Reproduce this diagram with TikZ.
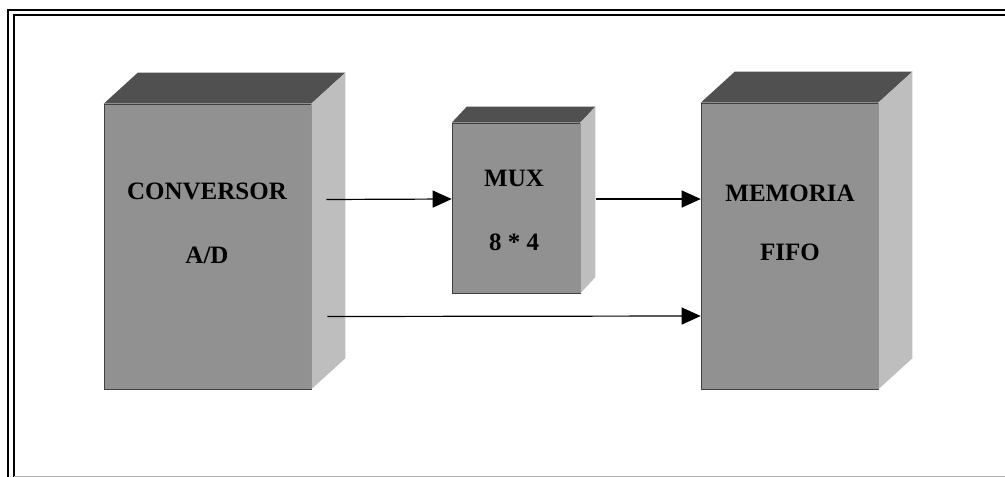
\documentclass[tikz,border=0pt]{standalone}
\usepackage{fontspec}
\setmainfont{Liberation Serif}
\usepackage{tikz}
\usetikzlibrary{arrows.meta,calc}
\definecolor{grisFrente}{RGB}{145,145,145}
\definecolor{grisTapa}{RGB}{80,80,80}
\definecolor{grisLado}{RGB}{190,190,190}

\begin{document}
\begin{tikzpicture}[x=1pt, y=-1pt, >={Triangle[length=19pt,width=17pt]},
    cara/.style={draw=black!75, line width=0.6pt, fill=grisFrente, inner sep=0pt},
    rotulo/.style={font=\fontsize{25}{30}\selectfont\bfseries, text=black},
    flecha/.style={->, line width=1.2pt}]
        \useasboundingbox (0,0) rectangle (1005,477);

        % Marco
        \draw[line width=1.4pt] (8,477) -- (8,10) -- (1005,10);
        \draw[line width=1.4pt] (14,477) -- (14,15) -- (1005,15);
        \draw[gray!60, line width=1pt] (14,476) -- (1005,476);

        % Bloques (cara frontal)
        \node[cara, minimum width=207pt, minimum height=285pt] (conv) at (207.5,246.5) {};
        \node[cara, minimum width=128pt, minimum height=170pt] (mux) at (516,208) {};
        \node[cara, minimum width=177pt, minimum height=286pt] (mem) at (789.5,246) {};

        % Tapa y lado de cada bloque
        \foreach \n/\dx/\dy in {conv/34/-31, mux/15/-16, mem/34/-31} {
            \fill[grisTapa] (\n.north west) -- ++(\dx,\dy) -- ($(\n.north east)+(\dx,\dy)$) -- (\n.north east) -- cycle;
            \fill[grisLado] (\n.north east) -- ++(\dx,\dy) -- ($(\n.south east)+(\dx,\dy)$) -- (\n.south east) -- cycle;
        }

        % Textos
        \node[rotulo] (conv1) at (207,191) {CONVERSOR};
        \node[rotulo] (conv2) at (207,255) {A/D};
        \node[rotulo] (mux1) at (514,178) {MUX};
        \node[rotulo] (mux2) at (514,242) {8 * 4};
        \node[rotulo] (mem1) at (790,193) {MEMORIA};
        \node[rotulo] (mem2) at (790,252) {FIFO};

        % Conexiones
        \draw[flecha] ([xshift=15pt,yshift=47pt]conv.east) -- ([yshift=9pt]mux.west);
        \draw[flecha] ([xshift=16pt,yshift=9pt]mux.east) -- ([yshift=47pt]mem.west);
        \draw[flecha] ([xshift=16pt,yshift=-70pt]conv.east) -- ([yshift=-70pt]mem.west);
\end{tikzpicture}
\end{document}
